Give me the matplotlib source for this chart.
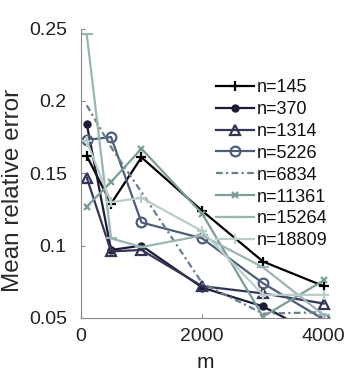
import matplotlib
matplotlib.use("Agg")
import matplotlib.pyplot as plt

plt.rcParams['font.family'] = ['Liberation Sans', 'DejaVu Sans']

m = [100, 500, 1000, 2000, 3000, 4000]
labels = ["n=145", "n=370", "n=1314", "n=5226", "n=6834", "n=11361", "n=15264", "n=18809"]
err_145 = [0.162, 0.129, 0.161, 0.124, 0.089, 0.072]
err_370 = [0.184, 0.097, 0.100, 0.071, 0.058, 0.036]
err_1314 = [0.147, 0.096, 0.097, 0.072, 0.067, 0.060]
err_5226 = [0.173, 0.175, 0.116, 0.105, 0.074, 0.049]
err_6834 = [0.197, 0.168, 0.137, 0.074, 0.053, 0.054]
err_11361 = [0.127, 0.144, 0.167, 0.122, 0.051, 0.076]
err_15264 = [0.246, 0.105, 0.099, 0.107, 0.085, 0.052]
err_18809 = [0.172, 0.130, 0.133, 0.110, 0.066, 0.066]
series = [err_145, err_370, err_1314, err_5226, err_6834, err_11361, err_15264, err_18809]

colors = ["#000000", "#1c1c36", "#343658", "#4f5e78", "#6a7e8c", "#7b9c98", "#9ab5b2", "#bacdcb"]
styles = [
    dict(marker='+', ms=7, mew=1.6, ls='-'),
    dict(marker='o', ms=5, ls='-'),
    dict(marker='^', ms=7, mfc='none', mew=1.6, ls='-'),
    dict(marker='o', ms=7, mfc='none', mew=1.6, ls='-'),
    dict(marker='None', ls=(0, (3, 1.5, 1, 1.5))),
    dict(marker='x', ms=5, mew=1.6, ls='-'),
    dict(marker='_', ms=8, mew=1.6, ls='-'),
    dict(marker='+', ms=7, mew=1.6, ls='-'),
]

fig = plt.figure(figsize=(3.57, 3.75), dpi=100)
ax = fig.add_axes([0.226, 0.152, 0.698, 0.772])
for y, lab, c, st in zip(series, labels, colors, styles):
    ax.plot(m, y, color=c, lw=1.6, label=lab, **st)

ax.set_xlim(0, 4100)
ax.set_ylim(0.05, 0.25)
ax.set_xticks([0, 2000, 4000])
ax.set_yticks([0.05, 0.1, 0.15, 0.2, 0.25])
ax.set_yticklabels(["0.05", "0.1", "0.15", "0.2", "0.25"])
for s in ['top', 'right']:
    ax.spines[s].set_visible(False)
for s in ['left', 'bottom']:
    ax.spines[s].set_color('#8a8a8a')
    ax.spines[s].set_linewidth(0.8)
ax.tick_params(direction='in', length=3, width=0.8, color='#8a8a8a',
               labelsize=14, labelcolor='#222222')
ax.tick_params(axis='y', pad=10)
ax.tick_params(axis='x', pad=7)
ax.set_xlabel("m", fontsize=15, color='#222222', labelpad=6)
ax.set_ylabel("Mean relative error", fontsize=17.5, color='#2a2a2a')
ax.yaxis.set_label_coords(-0.228, 0.44)

leg = ax.legend(loc='upper right', bbox_to_anchor=(1.02, 0.85), frameon=False,
                fontsize=13, handlelength=2.1, handletextpad=0.15,
                labelspacing=0.27, borderaxespad=0.0)
for t in leg.get_texts():
    t.set_color('#111111')

fig.savefig("out.png", dpi=100)
